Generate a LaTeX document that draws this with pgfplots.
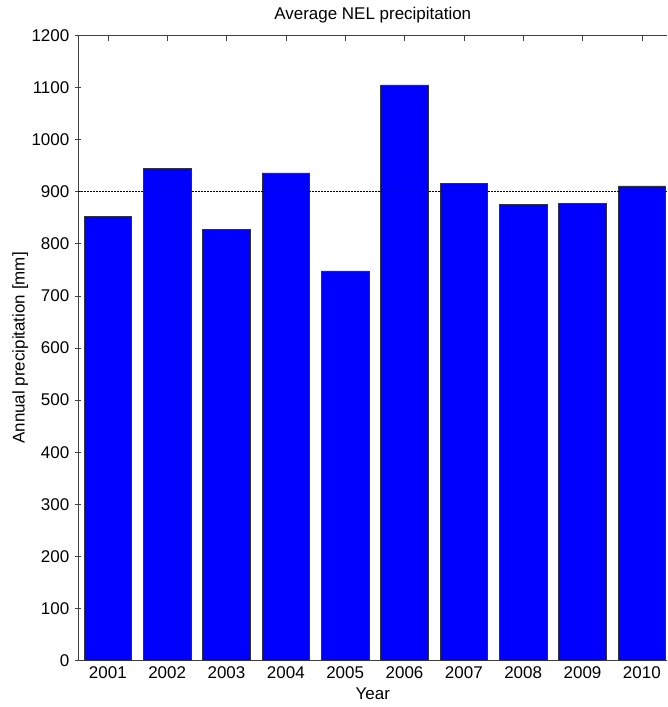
\documentclass[border=0pt]{standalone}
\usepackage{fontspec}
\setmainfont{Liberation Sans}
\usepackage{pgfplots}
\pgfplotsset{compat=1.18}

\begin{document}
\fontsize{17}{20}\selectfont
\begin{tikzpicture}
  \begin{axis}[
      name=main,
      scale only axis,
      width=588bp, height=624bp,
      xmin=0.5, xmax=10.43,
      ymin=0, ymax=1200,
      axis x line=box, axis y line=left,
      axis line style={-, draw=black!75, line width=0.6pt},
      tick style={draw=black!75, line width=0.6pt},
      major tick length=6bp,
      xtick={1,...,10},
      xticklabels={2001,2002,2003,2004,2005,2006,2007,2008,2009,2010},
      ytick={0,100,...,1200},
      /pgf/number format/assume math mode=true,
      yticklabel style={/pgf/number format/1000 sep={}},
      tick label style={font=\fontsize{17}{20}\selectfont},
      xlabel={Year},
      ylabel={Annual precipitation [mm]},
      title={Average NEL precipitation},
      label style={font=\fontsize{17}{20}\selectfont},
      title style={font=\fontsize{17}{20}\selectfont},
      xlabel style={yshift=2.5bp},
      ylabel style={yshift=-8bp},
      clip=true,
    ]
    \addplot[ybar, bar width=0.8, fill=blue, draw=black!80, line width=0.6pt]
      coordinates {
        (1,853) (2,945) (3,828) (4,936) (5,748)
        (6,1105) (7,916) (8,875) (9,878) (10,911)
      };
    \addplot[black, line width=0.5pt, dash pattern=on 2pt off 1pt]
      coordinates {(0.5,900) (10.43,900)};
  \end{axis}
  % extra margins, as in the reference
  \path ([xshift=-78bp]main.south west) -- ++(0,1pt);
  \path (current bounding box.north) ++(0,2bp);
  \path (current bounding box.south) ++(0,-2bp);
\end{tikzpicture}
\end{document}
